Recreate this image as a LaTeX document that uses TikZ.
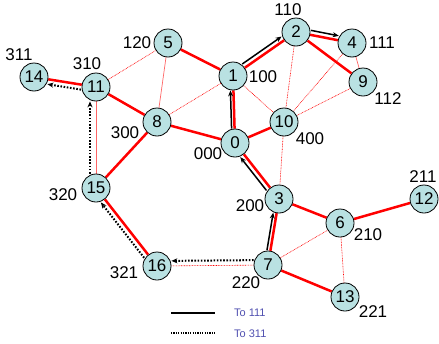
\documentclass[tikz,border=0pt]{standalone}
\usepackage{fontspec}
\setmainfont{Liberation Sans}
\usetikzlibrary{arrows.meta}
\pgfdeclarelayer{bg}
\pgfsetlayers{bg,main}

\definecolor{nodefill}{RGB}{185,225,226}
\definecolor{legendblue}{RGB}{80,80,176}

\begin{document}
\begin{tikzpicture}[x=1pt,y=-1pt,
  vtx/.style={circle,draw=black,line width=0.8pt,fill=nodefill,minimum size=28pt,
    inner sep=0pt,font=\fontsize{17}{17}\selectfont},
  addr/.style={inner sep=0pt,font=\fontsize{17}{17}\selectfont},
  legtext/.style={inner sep=0pt,anchor=west,text=legendblue,font=\fontsize{11}{11}\selectfont},
  tree/.style={red,line width=2.5pt},
  link/.style={red!60,line width=0.7pt},
  dlink/.style={red,line width=0.6pt,dash pattern=on 0.8pt off 0.8pt},
  route/.style={black,line width=1.5pt,-{Stealth[length=6pt,width=5pt]}},
  droute/.style={black,line width=2pt,dash pattern=on 1.6pt off 1.6pt,-{Stealth[length=6pt,width=5pt]}},
  legsolid/.style={black,line width=1.5pt},
  legdotted/.style={black,line width=1.6pt,dash pattern=on 1.2pt off 1.2pt}
]
\useasboundingbox (0,0) rectangle (439,343);

% routers
\node[vtx] (n0)  at (235,143) {0};
\node[vtx] (n1)  at (233,76)  {1};
\node[vtx] (n2)  at (296,32)  {2};
\node[vtx] (n3)  at (279,199) {3};
\node[vtx] (n4)  at (352,43)  {4};
\node[vtx] (n5)  at (168,43)  {5};
\node[vtx] (n6)  at (340,223) {6};
\node[vtx] (n7)  at (268,265) {7};
\node[vtx] (n8)  at (157,122) {8};
\node[vtx] (n9)  at (363,82)  {9};
\node[vtx] (n10) at (284,122) {10};
\node[vtx] (n11) at (96,87)   {11};
\node[vtx] (n12) at (424,199) {12};
\node[vtx] (n13) at (345,297) {13};
\node[vtx] (n14) at (34,77)   {14};
\node[vtx] (n15) at (96,188)  {15};
\node[vtx] (n16) at (157,266) {16};

% tree addresses
\node[addr] (a0)  at (208,154) {000};
\node[addr] (a1)  at (263,77)  {100};
\node[addr] (a2)  at (288,10)  {110};
\node[addr] (a4)  at (382,43)  {111};
\node[addr] (a9)  at (388,99)  {112};
\node[addr] (a10) at (310,139) {400};
\node[addr] (a5)  at (137,43)  {120};
\node[addr] (a14) at (19,55)   {311};
\node[addr] (a11) at (87,64)   {310};
\node[addr] (a8)  at (125,133) {300};
\node[addr] (a15) at (63,195)  {320};
\node[addr] (a16) at (124,273) {321};
\node[addr] (a3)  at (250,206) {200};
\node[addr] (a6)  at (368,235) {210};
\node[addr] (a12) at (423,177) {211};
\node[addr] (a7)  at (246,283) {220};
\node[addr] (a13) at (373,312) {221};

\begin{pgfonlayer}{bg}
  % spanning tree
  \draw[tree] (n14) -- (n11);
  \draw[tree] (n11) -- (n8);
  \draw[tree] (n5) -- (n1);
  \draw[tree] (n8) -- (n0);
  \draw[tree] (n8) -- (n15);
  \draw[tree] (n15) -- (n16);
  \draw[tree] (n1) -- (n0);
  \draw[tree] (n1) -- (n2);
  \draw[tree] (n2) -- (n4);
  \draw[tree] (n2) -- (n9);
  \draw[tree] (n0) -- (n10);
  \draw[tree] (n0) -- (n3);
  \draw[tree] (n3) -- (n7);
  \draw[tree] (n3) -- (n6);
  \draw[tree] (n6) -- (n12);
  \draw[tree] (n7) -- (n13);
  % remaining links
  \draw[link] (n5) -- (n8);
  \draw[link] (n4) -- (n9);
  \draw[link] (n11) -- (n15);
  \draw[dlink] (n11) -- (n5);
  \draw[dlink] (n8) -- (n1);
  \draw[dlink] (n1) -- (n10);
  \draw[dlink] (n2) -- (n10);
  \draw[dlink] (n4) -- (n10);
  \draw[dlink] (n9) -- (n10);
  \draw[dlink] (n10) -- (n3);
  \draw[dlink] (n16) -- (n7);
  \draw[dlink] (n7) -- (n6);
  \draw[dlink] (n6) -- (n13);
\end{pgfonlayer}

% route towards 111
\draw[route,transform canvas={shift={(-3pt,0pt)}}] (n0) -- (n1);
\draw[route,transform canvas={shift={(-2.6pt,3.7pt)}}] (n1) -- (n2);
\draw[route,transform canvas={shift={(0.9pt,4.4pt)}}] (n2) -- (n4);
\draw[route,transform canvas={shift={(-3.6pt,-2.8pt)}}] (n3) -- (n0);
\draw[route,transform canvas={shift={(-3.4pt,0.6pt)}}] (n7) -- (n3);

% route towards 311
\draw[droute,transform canvas={shift={(0pt,5pt)}}] (n7) -- (n16);
\draw[droute,transform canvas={shift={(-4pt,-3.1pt)}}] (n16) -- (n15);
\draw[droute,transform canvas={shift={(-6pt,0pt)}}] (n15) -- (n11);
\draw[droute,transform canvas={shift={(-0.8pt,-4.9pt)}}] (n11) -- (n14);

% legend
\coordinate (l1a) at (171,313);
\coordinate (l1b) at (215,313);
\coordinate (l2a) at (171,333);
\coordinate (l2b) at (215,333);
\draw[legsolid] (l1a) -- (l1b);
\draw[legdotted] (l2a) -- (l2b);
\node[legtext] (t1) at (234,313) {To 111};
\node[legtext] (t2) at (234,334) {To 311};
\end{tikzpicture}
\end{document}
